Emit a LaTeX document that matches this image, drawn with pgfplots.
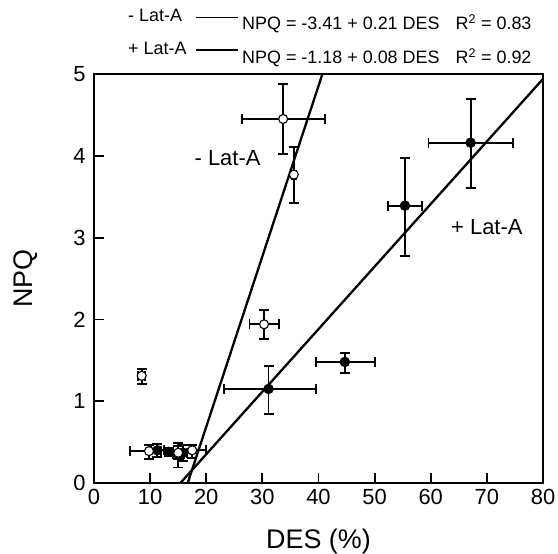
\documentclass[border=0pt]{standalone}
\usepackage{fontspec}
\setmainfont{Liberation Sans}
\usepackage{pgfplots}
\usepackage{pgfplotstable}
\pgfplotsset{compat=1.18}

% -Lat-A (open circles)
\pgfplotstableread{
x y exm exp eym eyp
33.7 4.45 7.3 7.5 0.43 0.43
35.6 3.77 0.4 0.4 0.35 0.34
30.3 1.94 2.6 2.6 0.18 0.17
8.5 1.31 0.6 0.6 0.10 0.08
9.8 0.39 3.4 2.2 0.10 0.08
17.5 0.40 2.5 2.4 0.09 0.07
15.0 0.37 1.0 1.0 0.08 0.08
}\minuslat

% +Lat-A (filled circles)
\pgfplotstableread{
x y exm exp eym eyp
67.1 4.16 7.5 7.6 0.55 0.53
55.4 3.39 3.0 3.0 0.61 0.58
44.7 1.48 5.1 5.3 0.13 0.11
31.1 1.15 8.0 8.4 0.31 0.28
11.3 0.40 1.2 1.2 0.08 0.08
13.3 0.38 0.7 0.7 0.05 0.05
15.0 0.35 1.0 1.0 0.16 0.14
15.8 0.37 0.8 0.8 0.10 0.10
}\pluslat

\begin{document}
\begin{tikzpicture}
\begin{axis}[
  scale only axis, width=449bp, height=409bp,
  xmin=0, xmax=80, ymin=0, ymax=5,
  xtick={0,10,...,80}, ytick={0,1,...,5},
  tick align=inside, xtick pos=bottom, ytick pos=left,
  major tick length=10bp,
  axis line style={line width=2.2bp},
  tick style={line width=1.8bp, black},
  tick label style={font=\fontsize{22}{24}\selectfont},
  /pgf/number format/assume math mode=true,
  xticklabel style={yshift=-3bp},
  yticklabel style={xshift=-5bp},
  xlabel={DES (\%)}, ylabel={NPQ},
  label style={font=\fontsize{27}{30}\selectfont},
  xlabel style={at={(axis description cs:0.5,-0.159)}, anchor=base},
  ylabel style={at={(axis description cs:-0.136,0.5)}, anchor=base},
  clip=false,
]
\addplot[black, line width=2.3bp, no marks] coordinates {(16.7,0) (40.7,5)};
\addplot[black, line width=2.3bp, no marks] coordinates {(15.4,0) (80,4.94)};

\addplot[only marks, black, mark=*, mark size=5bp,
  error bars/.cd, x dir=both, x explicit, y dir=both, y explicit,
  error bar style={line width=1.9bp, black},
  error mark options={rotate=90, line width=1.9bp, mark size=5bp, black}]
  table[x=x, y=y, x error plus=exp, x error minus=exm, y error plus=eyp, y error minus=eym]{\pluslat};

\addplot[only marks, black, mark=*, mark size=4.5bp, mark options={fill=white, draw=black, line width=1.1bp},
  error bars/.cd, x dir=both, x explicit, y dir=both, y explicit,
  error bar style={line width=1.9bp, black},
  error mark options={rotate=90, line width=1.9bp, mark size=5bp, black}]
  table[x=x, y=y, x error plus=exp, x error minus=exm, y error plus=eyp, y error minus=eym]{\minuslat};

\node[font=\fontsize{22}{24}\selectfont] at (axis cs:23.8,3.97) {- Lat-A};
\node[font=\fontsize{22}{24}\selectfont] at (axis cs:70.0,3.13) {+ Lat-A};
\end{axis}

% top legend
\node[anchor=base west, inner sep=0pt, font=\fontsize{18}{20}\selectfont] at ([shift={(34bp,52.5bp)}]current axis.north west) {- Lat-A};
\draw[line width=1.6bp] ([shift={(102bp,56.5bp)}]current axis.north west) -- ++(42bp,0);
\node[anchor=base west, inner sep=0pt, font=\fontsize{18}{20}\selectfont] at ([shift={(148bp,44.5bp)}]current axis.north west) {NPQ = -3.41 + 0.21 DES\hspace{0.9em}R\textsuperscript{2} = 0.83};
\node[anchor=base west, inner sep=0pt, font=\fontsize{18}{20}\selectfont] at ([shift={(34bp,19.5bp)}]current axis.north west) {+ Lat-A};
\draw[line width=1.6bp] ([shift={(102bp,24bp)}]current axis.north west) -- ++(42bp,0);
\node[anchor=base west, inner sep=0pt, font=\fontsize{18}{20}\selectfont] at ([shift={(148bp,10.5bp)}]current axis.north west) {NPQ = -1.18 + 0.08 DES\hspace{0.9em}R\textsuperscript{2} = 0.92};

\pgfresetboundingbox
\path[use as bounding box] ([shift={(-94bp,-71bp)}]current axis.south west) rectangle ([shift={(15bp,74bp)}]current axis.north east);
\end{tikzpicture}
\end{document}
